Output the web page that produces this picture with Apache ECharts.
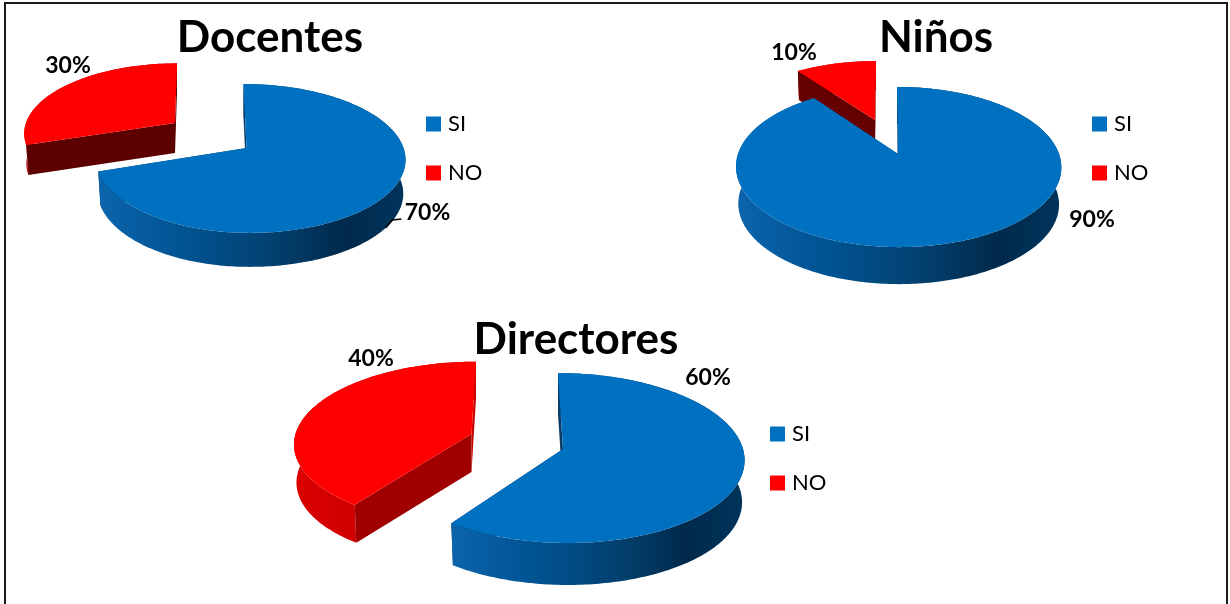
<!DOCTYPE html>
<html>
<head>
<meta charset="utf-8">
<style>html,body{margin:0;padding:0;background:#fff}#c{width:1230px;height:604px}</style>
<script src="https://cdn.jsdelivr.net/npm/echarts@6/dist/echarts.min.js"></script>
</head>
<body>
<div id="c"></div>
<script>
// ---- data ----
var categories = ['SI', 'NO'];
var chartTitles = ['Docentes', 'Niños', 'Directores'];
var docentes = [70, 30];
var ninos = [90, 10];
var directores = [60, 40];

// ---- layout of the three 3D pies (styles and geometry only) ----
var FONT = 'Lato, Carlito, "Open Sans", sans-serif';
var BLUE = '#0070C0', RED = '#FF0000';
var TAPER = 0.986;
var blueWall = [[0, '#0b64ac'], [0.3, '#005290'], [0.55, '#034272'], [0.8, '#012a4c'], [1, '#00345c']];
var redWall = [[0, '#dc0000'], [1, '#b40000']];
var pies = [
  { values: docentes, title: [270, 16], legend: [426, 113],
    slices: [
      { k: .14, x: 246.5, y: 148, r: 157, rl: 150, ry: 73, sx: 3, depth: 34, color: BLUE, wall: blueWall, startFace: '#0a3c68', endFace: '#0a3c68', backEnd: true, label: [181, 65], leader: [[139, 80], [146, 72], [155, 71]] },
      { k: .14, x: 175, y: 123, r: 149, rl: 149, ry: 68, sx: -2, depth: 30, color: RED, wall: redWall, startFace: '#5c0000', endFace: '#5c0000', label: [-107, -57] }
    ] },
  { values: ninos, title: [936, 16], legend: [1092, 113],
    slices: [
      { k: .1625, x: 898, y: 154, r: 161, rl: 160, ry: 78, sx: 1, depth: 37, color: BLUE, wall: blueWall, startFace: '#0a3c68', endFace: '#0a3c68', backEnd: true, label: [194, 66] },
      { k: .1625, x: 875, y: 120, r: 150, rl: 150, ry: 68.5, sx: -1, depth: 29, color: RED, wall: redWall, startFace: '#640000', endFace: '#640000', label: [-81, -67] }
    ] },
  { values: directores, title: [576, 318], legend: [770, 423],
    slices: [
      { k: .106, x: 563, y: 449, r: 180, rl: 180, ry: 84, sx: 5, depth: 42, color: BLUE, wall: blueWall, startFace: '#0a3c68', endFace: '#0a3c68', backEnd: true, label: [145, -71] },
      { k: .106, x: 471.5, y: 434, r: 176, rl: 176, ry: 80, sx: -4.5, depth: 38, color: RED, wall: redWall, startFace: '#a00000', endFace: '#c80000', label: [-100.5, -75] }
    ] }
];

function project(s, a, low) {
  var u = Math.sin(a), v = -Math.cos(a), f = 1 / (1 - s.k * v);
  var x = (s.r === s.rl || u >= 0 ? s.r : s.rl) * u * f + s.sx * v;
  return [s.x + x * (low ? TAPER : 1), s.y + s.ry * v * f + (low ? s.depth : 0)];
}
function arc(s, a0, a1, low) {
  var pts = [], n = Math.max(2, Math.ceil((a1 - a0) / (Math.PI / 180)));
  for (var i = 0; i <= n; i++) pts.push(project(s, a0 + (a1 - a0) * i / n, low));
  return pts;
}
function face(s, a) {
  return [[s.x, s.y], project(s, a), project(s, a, true), [s.x, s.y + s.depth]];
}
function poly(points, fill) {
  return { type: 'polygon', shape: { points: points }, style: { fill: fill }, silent: true };
}
function makeRender(pie, idx) {
  var s = pie.slices[idx];
  return function (params, api) {
    var value = api.value(0);
    var total = pie.values.reduce(function (p, c) { return p + c; }, 0);
    var before = pie.values.slice(0, idx).reduce(function (p, c) { return p + c; }, 0);
    var a0 = before / total * 2 * Math.PI;
    var a1 = (before + value) / total * 2 * Math.PI;
    var top = arc(s, a0, a1, false);
    var low = arc(s, a0, a1, true).reverse();
    var wall = poly(top.concat(low), new echarts.graphic.LinearGradient(0, 0, 1, 0, s.wall.map(function (c) {
      return { offset: c[0], color: c[1] };
    })));
    var endFace = poly(face(s, a1), s.endFace);
    var children = s.backEnd ? [endFace, wall] : [wall, endFace];
    children.push(poly(face(s, a0), s.startFace));
    children.push(poly([[s.x, s.y]].concat(top), s.color));
    if (s.leader) {
      children.push({ type: 'polyline', shape: { points: s.leader.map(function (p) { return [s.x + p[0], s.y + p[1]]; }) },
        style: { stroke: '#000', lineWidth: 1.5, fill: null }, silent: true });
    }
    children.push({ type: 'text', x: s.x + s.label[0], y: s.y + s.label[1], silent: true,
      style: { text: value + '%', fill: '#000', font: 'bold 23px ' + FONT, textAlign: 'center', textVerticalAlign: 'middle' } });
    return { type: 'group', children: children };
  };
}

var series = [], legends = [], titles = [];
pies.forEach(function (pie, p) {
  titles.push({ text: chartTitles[p], left: pie.title[0], top: pie.title[1], textAlign: 'center',
    padding: 0, textStyle: { fontFamily: FONT, fontWeight: 'bold', fontSize: 44, color: '#000' } });
  legends.push({ data: categories, orient: 'vertical', left: pie.legend[0], top: pie.legend[1], padding: 0,
    itemWidth: 15, itemHeight: 15, itemGap: 27, icon: 'rect', selectedMode: false,
    textStyle: { fontFamily: FONT, fontSize: 22, color: '#000', padding: [0, 0, 0, 2] } });
  // the red wedge is painted first so the blue one can overlap it
  [1, 0].forEach(function (i) {
    series.push({ type: 'custom', name: categories[i], coordinateSystem: 'none', clip: false, silent: true,
      itemStyle: { color: pie.slices[i].color }, data: [[pie.values[i]]], renderItem: makeRender(pie, i) });
  });
});

var chart = echarts.init(document.getElementById('c'), null, { renderer: 'canvas' });
chart.setOption({
  backgroundColor: '#fff', animation: false, title: titles, legend: legends, series: series,
  graphic: [{ type: 'polyline', silent: true, z: 0,
    shape: { points: [[5, 604], [5, 3], [1227, 3], [1227, 604]] },
    style: { stroke: '#1a1a1a', lineWidth: 2, fill: null } }]
});
</script>
</body>
</html>
